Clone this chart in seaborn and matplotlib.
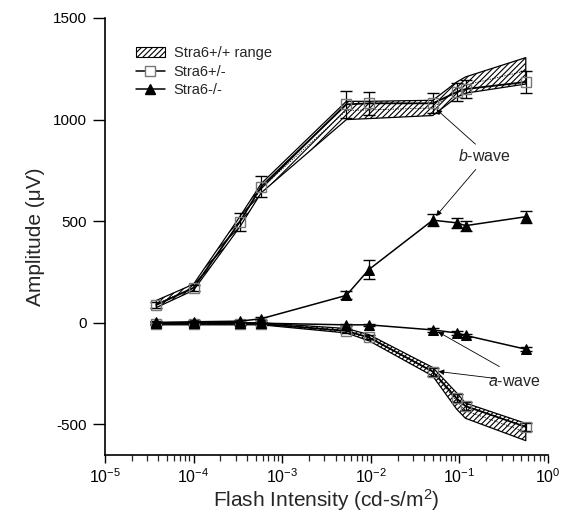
import numpy as np
import pandas as pd
import matplotlib
matplotlib.use("Agg")
import matplotlib.pyplot as plt
import seaborn as sns

# ---- data ----
intensity = [3.8e-5, 1.0e-4, 3.3e-4, 5.8e-4, 5.3e-3, 9.5e-3, 0.05, 0.093, 0.117, 0.56]

het_b = [88, 172, 495, 670, 1075, 1080, 1080, 1135, 1150, 1185]
het_b_err = [15, 15, 45, 50, 65, 55, 50, 45, 45, 55]
het_a = [-5, -5, -5, -5, -40, -72, -240, -372, -410, -512]
het_a_err = [8, 8, 8, 8, 8, 10, 20, 20, 20, 20]

ko_b = [2, 5, 8, 20, 135, 262, 505, 492, 478, 522]
ko_b_err = [8, 8, 8, 8, 20, 45, 30, 25, 25, 30]
ko_a = [0, 0, 0, -2, -10, -10, -35, -50, -62, -130]
ko_a_err = [6, 6, 6, 6, 6, 6, 8, 8, 8, 10]

wt_b_hi = [110, 190, 520, 685, 1090, 1090, 1095, 1185, 1210, 1305]
wt_b_lo = [75, 160, 470, 640, 1000, 1005, 1020, 1110, 1130, 1175]
wt_a_hi = [0, 0, 0, 0, -28, -58, -220, -345, -395, -495]
wt_a_lo = [-10, -10, -10, -10, -50, -88, -262, -425, -470, -580]

xticks = [1e-5, 1e-4, 1e-3, 1e-2, 1e-1, 1e0]
xticklabels = ["10$^{-5}$", "10$^{-4}$", "10$^{-3}$", "10$^{-2}$", "10$^{-1}$", "10$^{0}$"]
yticks = [-500, 0, 500, 1000, 1500]

# ---- style ----
sns.set_theme(style="ticks")
plt.rcParams["font.family"] = ["Liberation Sans", "DejaVu Sans"]
plt.rcParams["mathtext.fontset"] = "custom"
plt.rcParams["mathtext.rm"] = "Liberation Sans"
plt.rcParams["mathtext.it"] = "Liberation Sans:italic"
plt.rcParams["hatch.linewidth"] = 0.8

fig = plt.figure(figsize=(5.61, 5.14), dpi=100)
ax = fig.add_axes([0.187, 0.115, 0.79, 0.85])

df = pd.DataFrame({
    "x": intensity * 4,
    "y": het_b + het_a + ko_b + ko_a,
    "err": het_b_err + het_a_err + ko_b_err + ko_a_err,
    "grp": ["het_b"] * 10 + ["het_a"] * 10 + ["ko_b"] * 10 + ["ko_a"] * 10,
})

# ranges (hatched)
for hi, lo in [(wt_b_hi, wt_b_lo), (wt_a_hi, wt_a_lo)]:
    ax.fill_between(intensity, lo, hi, facecolor="white", edgecolor="black",
                    hatch="//////", linewidth=0.9, zorder=1)
    mid = [(a + b) / 2 for a, b in zip(hi, lo)]
    ax.plot(intensity, mid, color="black", lw=0.6, ls=(0, (1.5, 1.5)), zorder=1.5)

# error bars
for g in ["het_b", "het_a", "ko_b", "ko_a"]:
    d = df[df.grp == g]
    ax.errorbar(d.x, d.y, yerr=d.err, fmt="none", ecolor="black", elinewidth=0.9,
                capsize=4, capthick=1.0, zorder=2)

# lines
sns.lineplot(data=df[df.grp.isin(["het_b", "het_a"])], x="x", y="y", units="grp",
             estimator=None, color="black", lw=1.3, marker="s", markersize=7,
             markerfacecolor="none", markeredgecolor="#777777", markeredgewidth=1.0,
             ax=ax, zorder=3)
sns.lineplot(data=df[df.grp.isin(["ko_b", "ko_a"])], x="x", y="y", units="grp",
             estimator=None, color="black", lw=1.1, marker="^", markersize=7.5,
             markerfacecolor="black", markeredgecolor="black", ax=ax, zorder=4)

ax.set_xscale("log")
ax.set_xlim(1e-5, 1e0)
ax.set_ylim(-650, 1500)
ax.set_xticks(xticks)
ax.set_xticklabels(xticklabels)
ax.set_yticks(yticks)
ax.set_yticklabels([str(v) for v in yticks])
ax.xaxis.set_minor_locator(matplotlib.ticker.LogLocator(base=10, subs=np.arange(2, 10)))
ax.xaxis.set_minor_formatter(matplotlib.ticker.NullFormatter())
ax.tick_params(axis="y", which="major", direction="out", length=9, width=1,
               labelsize=11, colors="black", pad=4)
ax.tick_params(axis="x", which="major", direction="out", length=6, width=1,
               labelsize=11.5, colors="black", pad=3)
ax.tick_params(axis="x", which="minor", direction="out", length=4, width=0.9)
sns.despine(ax=ax)
for s in ["left", "bottom"]:
    ax.spines[s].set_linewidth(1.2)
    ax.spines[s].set_color("black")

ax.set_xlabel("Flash Intensity (cd-s/m$^2$)", fontsize=15, labelpad=1)
ax.set_ylabel("Amplitude (\u03bcV)", fontsize=15, labelpad=6)

# legend
from matplotlib.patches import Patch
from matplotlib.lines import Line2D
handles = [
    Patch(facecolor="white", edgecolor="black", hatch="//////", lw=0.8),
    Line2D([], [], color="black", lw=1.1, marker="s", markersize=7,
           markerfacecolor="white", markeredgecolor="#777777"),
    Line2D([], [], color="black", lw=1.1, marker="^", markersize=7,
           markerfacecolor="black"),
]
ax.legend(handles, ["Stra6+/+ range", "Stra6+/-", "Stra6-/-"], loc="upper left",
          bbox_to_anchor=(0.04, 0.965), frameon=False, fontsize=10.5,
          handlelength=2.0, handletextpad=0.6, labelspacing=0.3)

# annotations
arr = dict(arrowstyle="-|>", color="black", lw=0.6, mutation_scale=8)
ax.text(0.19, 820, "$b$-wave", fontsize=11.5, ha="center", va="center")
ax.annotate("", xy=(0.052, 1060), xytext=(0.16, 870), arrowprops=arr)
ax.annotate("", xy=(0.052, 515), xytext=(0.16, 765), arrowprops=arr)
ax.text(0.42, -290, "$a$-wave", fontsize=11.5, ha="center", va="center")
ax.annotate("", xy=(0.054, -38), xytext=(0.3, -222), arrowprops=arr)
ax.annotate("", xy=(0.054, -238), xytext=(0.27, -275), arrowprops=arr)

fig.savefig("out.png", dpi=100)
